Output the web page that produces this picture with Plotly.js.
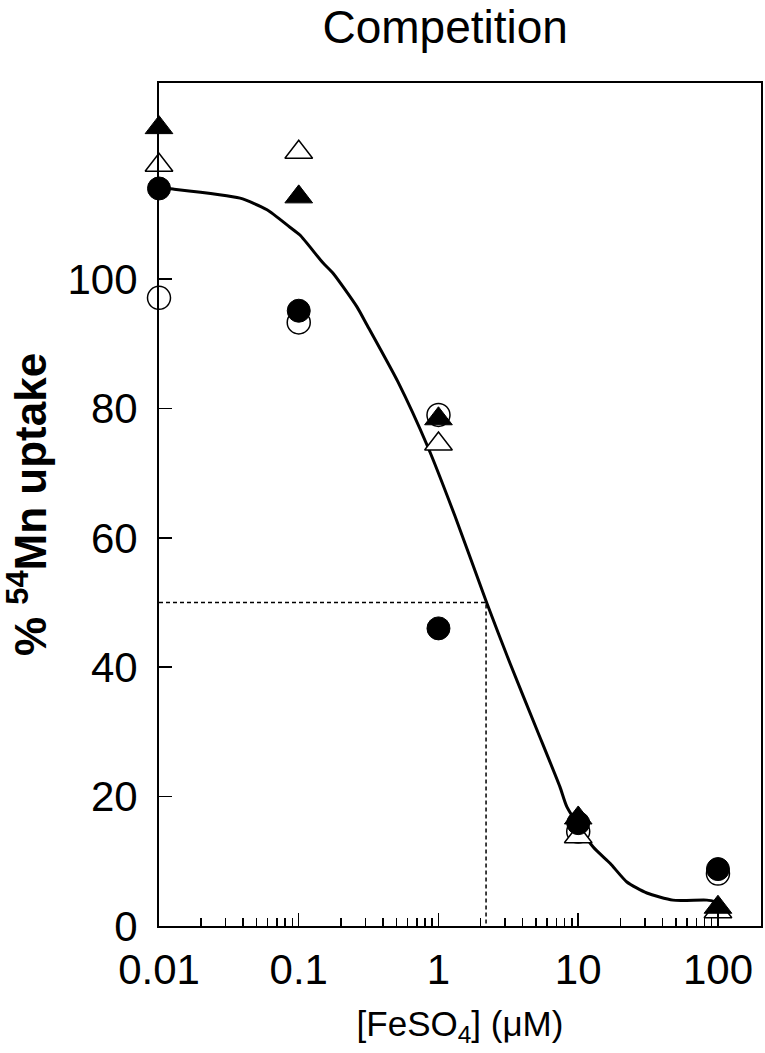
<!DOCTYPE html>
<html>
<head>
<meta charset="utf-8">
<script src="https://cdn.plot.ly/plotly-3.0.1.min.js"></script>
<style>
  html, body { margin: 0; padding: 0; background: #ffffff; }
  #chart { width: 765px; height: 1053px; }
</style>
</head>
<body>
<div id="chart"></div>
<script>
// ---- Data ----
const concentration = [0.01, 0.1, 1, 10, 100];          // [FeSO4] (µM)
const filledCircles   = [114.0, 95.1, 46.0, 15.9, 8.8];
const openCircles     = [97.1, 93.3, 79.0, 14.6, 8.1];
const filledTriangles = [123.4, 112.7, 78.4, 16.7, 2.9];
const openTriangles   = [117.6, 119.6, 74.5, 13.8, 2.2];

// fitted competition curve
const fitX = [0.01, 0.0126, 0.038, 0.0593, 0.0865, 0.102, 0.149, 0.176, 0.261, 0.308,
              0.513, 0.841, 1.31, 2.22, 3.25, 5.07, 7.40, 8.30, 12.8,
              16.9, 22.3, 31.0, 47.6, 83.4, 100];
const fitY = [114.1, 113.9, 112.5, 110.7, 108.0, 106.8, 102.5, 100.9, 95.7, 92.9,
              84.1, 74.0, 63.4, 49.9, 40.6, 30.3, 21.5, 18.4, 12.2,
              9.7, 6.8, 5.1, 4.0, 4.0, 3.7];

// IC50 guide lines
const ic50X = [0.01, 2.19, 2.19];
const ic50Y = [50, 50, 0];

const yTickVals = [0, 20, 40, 60, 80, 100];
const xTickVals = [0.01, 0.1, 1, 10, 100];
const xTickText = ['0.01', '0.1', '1', '10', '100'];
const xMinorVals = [0.02,0.03,0.04,0.05,0.06,0.07,0.08,0.09,
                    0.2,0.3,0.4,0.5,0.6,0.7,0.8,0.9,
                    2,3,4,5,6,7,8,9,
                    20,30,40,50,60,70,80,90, 200];

const FONT = 'Arial, "Liberation Sans", Helvetica, sans-serif';
const MSIZE = 23;
const TSIZE = 24;

const traces = [
  {
    x: ic50X, y: ic50Y, type: 'scatter', mode: 'lines',
    line: { color: '#000', width: 1.5, dash: '4px,3px' },
    hoverinfo: 'skip', showlegend: false
  },
  {
    x: fitX, y: fitY, type: 'scatter', mode: 'lines',
    line: { color: '#000', width: 3, shape: 'spline', smoothing: 0.6 },
    showlegend: false
  },
  {
    x: concentration, y: openCircles, type: 'scatter', mode: 'markers', cliponaxis: false,
    marker: { symbol: 'circle', size: MSIZE, color: '#fff', line: { color: '#000', width: 1.5 } },
    showlegend: false
  },
  {
    x: concentration, y: openTriangles, type: 'scatter', mode: 'markers', cliponaxis: false,
    marker: { symbol: 'triangle-up', size: TSIZE, color: '#fff', line: { color: '#000', width: 1.5 } },
    showlegend: false
  },
  {
    x: concentration, y: filledTriangles, type: 'scatter', mode: 'markers', cliponaxis: false,
    marker: { symbol: 'triangle-up', size: TSIZE, color: '#000', line: { color: '#000', width: 1 } },
    showlegend: false
  },
  {
    x: concentration, y: filledCircles, type: 'scatter', mode: 'markers', cliponaxis: false,
    marker: { symbol: 'circle', size: MSIZE, color: '#000', line: { color: '#000', width: 1 } },
    showlegend: false
  }
];

const layout = {
  width: 765, height: 1053,
  paper_bgcolor: '#fff', plot_bgcolor: '#fff',
  margin: { l: 159, r: 4, t: 83, b: 127, pad: 0 },
  showlegend: false,
  font: { family: FONT, color: '#000' },
  title: {
    text: 'Competition',
    font: { family: FONT, size: 46, color: '#000' },
    xref: 'container', x: 0.582, xanchor: 'center',
    yref: 'container', y: 0.974, yanchor: 'middle'
  },
  xaxis: {
    type: 'log',
    range: [-2, 2.308],
    tickmode: 'array', tickvals: xTickVals, ticktext: xTickText,
    ticks: 'inside', ticklen: 13, tickwidth: 1.5, tickcolor: '#000',
    minor: { tickmode: 'array', tickvals: xMinorVals, ticks: 'inside', ticklen: 8, tickwidth: 1.5, tickcolor: '#000', showgrid: false },
    showline: true, linecolor: '#000', linewidth: 2, mirror: true,
    showgrid: false, zeroline: false,
    tickfont: { family: FONT, size: 42, color: '#000' },
    ticklabelstandoff: 6,
    title: {
      text: '[FeSO<sub>4</sub>] (μM)',
      font: { family: FONT, size: 35, color: '#000' },
      standoff: 19
    }
  },
  yaxis: {
    range: [0, 130.3],
    tickmode: 'array', tickvals: yTickVals,
    ticks: 'inside', ticklen: 13, tickwidth: 1.5, tickcolor: '#000',
    showline: true, linecolor: '#000', linewidth: 2, mirror: true,
    showgrid: false, zeroline: false,
    tickfont: { family: FONT, size: 42, color: '#000' },
    ticklabelstandoff: 11,
    title: {
      text: '% <sup>54</sup>Mn uptake',
      font: { family: FONT, size: 44, color: '#000', weight: 'bold' },
      standoff: 12
    }
  }
};

Plotly.newPlot('chart', traces, layout, { staticPlot: true, displayModeBar: false });
</script>
</body>
</html>
